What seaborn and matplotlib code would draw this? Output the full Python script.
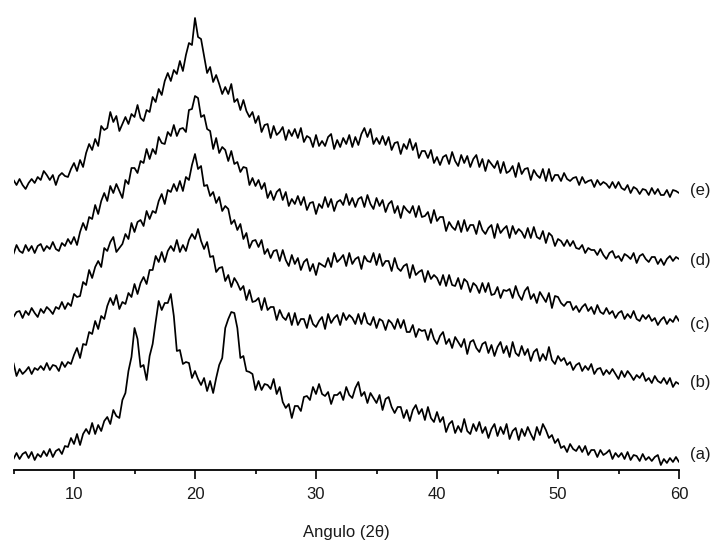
import numpy as np
import pandas as pd
import matplotlib
matplotlib.use("Agg")
import matplotlib.pyplot as plt
import seaborn as sns

# 2-theta grid (degrees), 0.25 deg step
angle = np.linspace(5, 60, 221)

# Stacked intensities (a.u.), one value per 0.25 deg (noise estimated)
serie_e = [
    290, 285, 291, 285,  281, 287, 291, 287,  293, 290, 299, 295,  290, 295, 285, 294,
    297, 294, 293, 301,  307, 299, 310, 303,  317, 326, 320, 331,  324, 344, 340, 342,
    358, 348, 354, 339,  346, 353, 346, 356,  353, 365, 352, 349,  360, 358, 373, 368,
    381, 375, 389, 397,  389, 400, 396, 409,  399, 415, 427, 425,  452, 433, 431, 414,
    397, 403, 388, 395,  386, 376, 383, 376,  386, 368, 371, 360,  370, 359, 353, 358,
    347, 354, 338, 345,  346, 332, 344, 335,  338, 343, 330, 340,  334, 341, 332, 342,
    328, 334, 332, 323,  335, 324, 329, 324,  333, 336, 321, 330,  323, 332, 326, 335,
    323, 333, 325, 336,  342, 333, 341, 326,  332, 326, 334, 325,  333, 320, 327, 328,
    316, 326, 321, 331,  320, 327, 312, 319,  319, 312, 320, 307,  313, 305, 313, 315,
    306, 318, 309, 304,  315, 307, 314, 303,  311, 315, 303, 311,  299, 310, 306, 302,
    309, 297, 308, 297,  299, 304, 293, 307,  296, 301, 302, 290,  300, 295, 292, 301,
    289, 301, 289, 295,  295, 289, 297, 291,  289, 292, 293, 285,  293, 287, 289, 290,
    283, 290, 285, 288,  286, 282, 288, 282,  288, 282, 280, 285,  277, 283, 281, 276,
    281, 280, 275, 282,  276, 281, 275, 275,  280, 273, 280, 279,  277,
]
serie_d = [
    216, 225, 219, 217,  225, 219, 224, 217,  224, 226, 219, 224,  221, 228, 221, 219,
    227, 224, 231, 226,  233, 225, 238, 247,  240, 253, 251, 265,  256, 269, 277, 269,
    284, 277, 286, 279,  272, 290, 286, 302,  302, 297, 309, 307,  321, 311, 321, 316,
    333, 327, 326, 338,  334, 345, 334, 341,  342, 338, 360, 361,  374, 372, 353, 355,
    341, 339, 321, 332,  317, 323, 320, 309,  319, 306, 308, 298,  303, 302, 285, 292,
    284, 290, 281, 287,  272, 279, 270, 278,  281, 270, 278, 264,  271, 266, 274, 265,
    273, 260, 267, 268,  256, 266, 262, 273,  263, 271, 259, 268,  270, 265, 276, 265,
    272, 263, 271, 273,  263, 275, 266, 261,  272, 264, 270, 258,  266, 269, 257, 264,
    252, 264, 260, 257,  264, 253, 264, 253,  254, 258, 247, 260,  249, 253, 253, 239,
    248, 243, 240, 249,  238, 250, 239, 245,  245, 236, 249, 240,  236, 242, 245, 232,
    246, 237, 241, 244,  232, 244, 236, 241,  238, 232, 242, 232,  243, 233, 231, 239,
    227, 237, 234, 224,  231, 229, 224, 230,  224, 229, 222, 221,  225, 217, 222, 220,
    220, 215, 221, 215,  211, 217, 219, 212,  214, 209, 216, 214,  211, 217, 207, 214,
    216, 211, 208, 213,  213, 206, 211, 205,  211, 214, 209, 213,  211,
]
serie_c = [
    153, 158, 159, 152,  159, 155, 162, 157,  153, 161, 157, 163,  160, 156, 163, 161,
    168, 161, 167, 164,  176, 173, 174, 188,  185, 200, 192, 203,  209, 203, 222, 219,
    228, 233, 218, 222,  226, 236, 231, 247,  238, 248, 250, 244,  259, 251, 259, 257,
    269, 276, 266, 280,  278, 286, 279, 289,  279, 293, 290, 305,  316, 301, 304, 284,
    285, 274, 278, 267,  273, 259, 264, 261,  246, 250, 240, 246,  231, 237, 222, 229,
    230, 223, 230, 216,  221, 212, 219, 220,  209, 220, 210, 204,  215, 206, 212, 200,
    208, 211, 199, 206,  195, 207, 205, 203,  212, 203, 217, 208,  211, 215, 204, 217,
    206, 211, 213, 201,  214, 209, 208, 217,  205, 216, 204, 209,  209, 199, 212, 202,
    199, 204, 206, 192,  205, 195, 198, 200,  188, 199, 191, 195,  192, 185, 195, 184,
    195, 185, 184, 192,  181, 191, 188, 178,  187, 184, 177, 187,  178, 187, 175, 176,
    183, 172, 180, 179,  181, 172, 184, 175,  170, 179, 183, 171,  176, 167, 178, 173,
    168, 177, 162, 174,  173, 167, 164, 168,  168, 160, 164, 158,  163, 166, 159, 163,
    156, 165, 158, 156,  162, 156, 159, 152,  157, 159, 151, 156,  152, 159, 151, 149,
    155, 151, 155, 149,  152, 145, 150, 153,  146, 151, 148, 154,  149,
]
serie_b = [
    107, 94, 101, 96,  99, 103, 96, 102,  100, 104, 100, 107,  100, 105, 104, 99,
    108, 103, 108, 106,  115, 122, 112, 126,  125, 138, 136, 149,  141, 154, 151, 164,
    172, 165, 175, 161,  168, 166, 177, 173,  186, 176, 187, 193,  186, 200, 200, 214,
    208, 218, 208, 219,  224, 219, 230, 218,  225, 219, 230, 236,  231, 241, 229, 221,
    228, 213, 214, 198,  202, 203, 189, 195,  183, 192, 187, 180,  184, 170, 180, 168,
    169, 172, 160, 172,  160, 163, 163, 150,  160, 153, 150, 157,  145, 157, 145, 151,
    151, 142, 155, 146,  143, 149, 153, 141,  156, 147, 152, 155,  145, 157, 150, 155,
    152, 146, 156, 146,  157, 147, 145, 153,  142, 151, 149, 140,  150, 147, 141, 151,
    142, 150, 138, 138,  145, 133, 141, 139,  140, 130, 141, 131,  126, 134, 138, 126,
    131, 122, 133, 128,  123, 131, 116, 128,  130, 122, 118, 126,  128, 117, 125, 114,
    123, 128, 117, 124,  113, 128, 117, 114,  124, 115, 121, 109,  118, 121, 109, 116,
    110, 123, 110, 106,  114, 109, 112, 105,  108, 100, 105, 107,  99, 104, 100, 106,
    96, 101, 102, 95,  100, 96, 101, 96,  91, 99, 93, 99,  95, 90, 95, 92,
    97, 89, 92, 87,  94, 89, 87, 92,  86, 92, 83, 88,  86,
]
serie_a = [
    11, 17, 11, 16,  18, 12, 18, 10,  16, 13, 19, 14,  21, 13, 19, 21,
    16, 24, 23, 32,  26, 36, 25, 36,  41, 36, 47, 36,  45, 39, 49, 53,
    46, 60, 54, 52,  70, 77, 99, 113,  142, 131, 103, 105,  90, 114, 126, 148,
    169, 160, 167, 167,  176, 154, 119, 120,  106, 108, 107, 92,  99, 91, 85, 92,
    79, 89, 77, 92,  105, 112, 142, 151,  158, 157, 142, 112,  114, 99, 98, 96,
    80, 89, 80, 86,  85, 81, 91, 76,  83, 68, 62, 66,  52, 64, 64, 59,
    73, 74, 70, 83,  76, 86, 76, 74,  78, 66, 75, 75,  78, 70, 83, 75,
    72, 82, 88, 74,  78, 67, 77, 72,  67, 75, 60, 71,  73, 63, 57, 63,
    63, 52, 60, 49,  60, 65, 56, 61,  50, 63, 52, 48,  58, 48, 53, 38,
    46, 49, 37, 44,  38, 51, 39, 36,  46, 39, 48, 37,  43, 32, 41, 46,
    34, 43, 36, 46,  31, 39, 42, 30,  41, 34, 43, 36,  30, 43, 35, 46,
    40, 32, 35, 27,  31, 22, 24, 18,  26, 21, 19, 24,  18, 24, 15, 20,
    20, 13, 20, 15,  17, 20, 11, 17,  13, 17, 11, 18,  10, 15, 14, 9,
    16, 10, 13, 9,  13, 15, 5, 11,  7, 12, 8, 13,  8,
]

labels = ["(a)", "(b)", "(c)", "(d)", "(e)"]
series = [serie_a, serie_b, serie_c, serie_d, serie_e]
label_y = [15, 87, 145, 210, 280]
xticks = [10, 20, 30, 40, 50, 60]

frames = []
for lab, vals in zip(labels, series):
    assert len(vals) == len(angle), (lab, len(vals))
    frames.append(pd.DataFrame({"angle": angle, "intensity": vals, "sample": lab}))
df = pd.concat(frames, ignore_index=True)

sns.set_theme(style="ticks")
plt.rcParams["font.family"] = ["Liberation Sans", "DejaVu Sans"]

fig = plt.figure(figsize=(7.18, 5.44), dpi=100)
ax = fig.add_axes([13.5 / 718, 74 / 544, 665.5 / 718, 460 / 544])

sns.lineplot(data=df, x="angle", y="intensity", hue="sample",
             palette=["black"] * 5, linewidth=1.25, legend=False,
             estimator=None, sort=False, ax=ax)

for lab, ly in zip(labels, label_y):
    ax.text(60.9, ly, lab, fontsize=12, va="center", ha="left",
            color="#1a1a1a", clip_on=False)

ax.set_xlim(5, 60)
ax.set_ylim(0, 460)
for s in ["left", "top", "right"]:
    ax.spines[s].set_visible(False)
ax.spines["bottom"].set_linewidth(1.3)
ax.spines["bottom"].set_color("black")
ax.set_yticks([])
ax.set_ylabel("")
ax.set_xticks(xticks)
ax.set_xticks([5, 15, 25, 35, 45, 55], minor=True)
ax.tick_params(axis="x", which="major", length=6.5, width=1.2, labelsize=12,
               color="black", labelcolor="#1a1a1a", pad=5.5)
ax.tick_params(axis="x", which="minor", length=3, width=1.2, color="black")
ax.set_xlabel("Angulo (2θ)", fontsize=12, color="#1a1a1a", labelpad=17)

fig.savefig("out.png", dpi=100, facecolor="white")
